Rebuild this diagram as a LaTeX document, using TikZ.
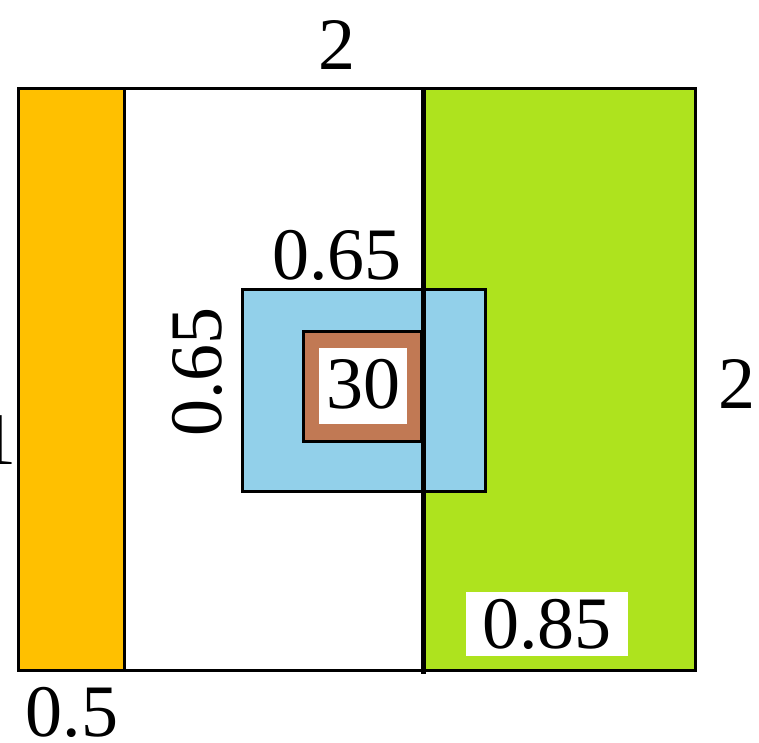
\documentclass[tikz,border=0pt]{standalone}
\usepackage{fontspec}
\setmainfont{Liberation Serif}
\definecolor{stripyellow}{RGB}{255,192,0}
\definecolor{limegreen}{RGB}{174,227,30}
\definecolor{paleblue}{RGB}{146,208,234}
\definecolor{clay}{RGB}{193,121,84}
\begin{document}
\begin{tikzpicture}[x=1pt,y=-1pt,
  lab/.style={font=\fontsize{74}{80}\selectfont, inner sep=0pt},
  edge/.style={line width=3pt, draw=black}]
\useasboundingbox (0,0) rectangle (759,742);
% outer square regions
\fill[white] (18,88) rectangle (695,670);
\fill[stripyellow] (18,88) rectangle (124,670);
\fill[limegreen] (423,88) rectangle (695,670);
\draw[edge] (18,88) rectangle (695,670);
\draw[edge] (124,88) -- (124,670);
% blue square
\draw[edge, fill=paleblue] (242,289) rectangle (485,491);
% brown square with white window
\draw[edge, fill=clay] (303,331) rectangle (421,441);
\fill[white] (319,348) rectangle (407,424);
% thick black divider
\draw[line width=5pt] (423,88) -- (423,674);
% labels
\node[lab] (top2) at (337,45) {2};
\node[lab] (top065) at (337,255) {0.65};
\node[lab, rotate=90] (side065) at (197,372) {0.65};
\node[lab] (thirty) at (363,384) {30};
\node[lab] (right2) at (737,384) {2};
\node[lab, fill=white, inner xsep=16pt, inner ysep=7pt] (b085) at (547,624) {0.85};
\node[lab] (b05) at (72,712) {0.5};
\node[lab] (left1) at (-2,440) {1};
\end{tikzpicture}
\end{document}
